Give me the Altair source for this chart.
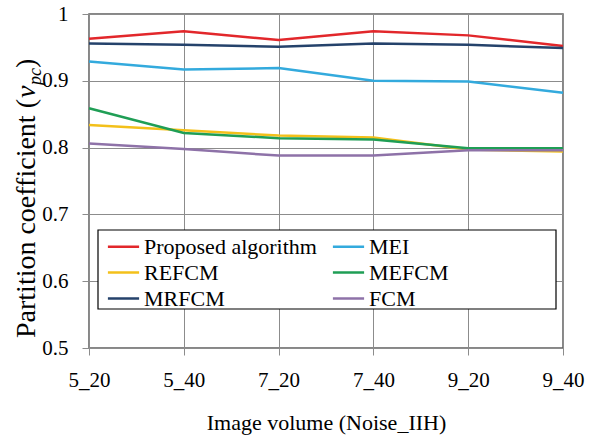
import altair as alt
import pandas as pd

categories = ["5_20", "5_40", "7_20", "7_40", "9_20", "9_40"]
series_names = ["Proposed algorithm", "MEI", "REFCM", "MEFCM", "MRFCM", "FCM"]
series_colors = ["#e2272b", "#33aadd", "#f3c01a", "#1f9e55", "#25426b", "#8e72a8"]

proposed = [0.963, 0.974, 0.961, 0.974, 0.968, 0.952]
mei = [0.929, 0.917, 0.919, 0.900, 0.899, 0.882]
refcm = [0.834, 0.826, 0.818, 0.815, 0.797, 0.794]
mefcm = [0.859, 0.822, 0.814, 0.812, 0.799, 0.799]
mrfcm = [0.956, 0.954, 0.951, 0.956, 0.954, 0.949]
fcm = [0.806, 0.798, 0.788, 0.788, 0.796, 0.796]

y_ticks = [0.5, 0.6, 0.7, 0.8, 0.9, 1.0]

values = [proposed, mei, refcm, mefcm, mrfcm, fcm]
rows = []
for name, vals in zip(series_names, values):
    for c, v in zip(categories, vals):
        rows.append({"series": name, "x": c, "v": v})
df = pd.DataFrame(rows)

FONT = "Liberation Serif"

lines = alt.Chart(df).mark_line(strokeWidth=2.5).encode(
    x=alt.X("x:N", sort=categories,
            scale=alt.Scale(type="point", padding=0),
            axis=alt.Axis(title="Image volume (Noise_IIH)", labelAngle=0, grid=True,
                          gridColor="#8c8c8c", domainColor="#8c8c8c", tickColor="#8c8c8c",
                          tickSize=7, labelPadding=14, labelFont=FONT, labelFontSize=21,
                          labelColor="black", titleFont=FONT, titleFontSize=22,
                          titleFontWeight="normal", titleColor="black",
                          titleBaseline="alphabetic", titleY=81)),
    y=alt.Y("v:Q", scale=alt.Scale(domain=[0.5, 1.0], nice=False, zero=False),
            axis=alt.Axis(title=None, values=y_ticks, format=".1~f", grid=True,
                          gridColor="#8c8c8c", domainColor="#8c8c8c", tickColor="#8c8c8c",
                          tickSize=7, labelPadding=14, labelFont=FONT, labelFontSize=21,
                          labelColor="black")),
    color=alt.Color("series:N", sort=series_names,
                    scale=alt.Scale(domain=series_names, range=series_colors),
                    legend=alt.Legend(orient="none", legendX=20, legendY=218, columns=2,
                                      direction="horizontal",
                                      title=None, symbolType="M-1.2,0H1.2", symbolSize=676,
                                      symbolStrokeWidth=2.5, labelFont=FONT,
                                      labelFontSize=22, labelColor="black", labelOffset=6,
                                      columnPadding=10, rowPadding=0, padding=0,
                                      labelLimit=400)),
)

one = pd.DataFrame({"a": [0]})

legend_box = alt.Chart(one).mark_rect(fill="white", stroke="black", strokeWidth=1.2).encode(
    x=alt.value(9), x2=alt.value(467), y=alt.value(216), y2=alt.value(295)
)

t1 = alt.Chart(one).mark_text(text="Partition coefficient (", angle=270, align="left",
                              baseline="alphabetic", font=FONT, fontSize=28,
                              color="black").encode(x=alt.value(-54), y=alt.value(324))
t2 = alt.Chart(one).mark_text(text="v", angle=270, align="left", baseline="alphabetic",
                              font=FONT, fontSize=28, fontStyle="italic",
                              color="black").encode(x=alt.value(-54), y=alt.value(84))
t3 = alt.Chart(one).mark_text(text="pc", angle=270, align="left", baseline="alphabetic",
                              font=FONT, fontSize=18, fontStyle="italic",
                              color="black").encode(x=alt.value(-48), y=alt.value(71))
t4 = alt.Chart(one).mark_text(text=")", angle=270, align="left", baseline="alphabetic",
                              font=FONT, fontSize=28,
                              color="black").encode(x=alt.value(-54), y=alt.value(54))

chart = alt.layer(legend_box, lines, t1, t2, t3, t4).properties(
    width=474, height=334,
    autosize=alt.AutoSizeParams(type="none"),
    padding={"left": 89, "top": 14, "right": 26, "bottom": 89},
    background="white",
).configure(font=FONT).configure_view(stroke="#606060", strokeWidth=1.5)

chart.save("out.html", embed_options={"renderer": "svg", "actions": False})
